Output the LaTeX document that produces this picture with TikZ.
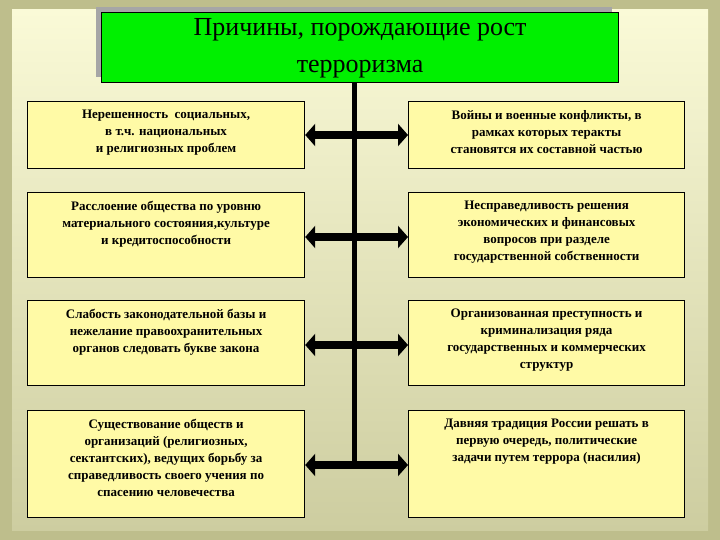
\documentclass[tikz,border=0pt]{standalone}
\usepackage{fontspec}
\setmainfont{Liberation Serif}
\usetikzlibrary{arrows.meta}
\begin{document}
\begin{tikzpicture}[x=1pt,y=-1pt,
  cbox/.style={draw=black,line width=1.2pt,fill=yellow!35!white,inner sep=0pt,anchor=north west},
  ctext/.style={align=center,font=\bfseries\fontsize{13}{17}\selectfont,inner sep=0pt,anchor=north,yshift=-9pt},
  biarrow/.style={line width=8pt,{Triangle[length=10pt,width=22pt]}-{Triangle[length=10pt,width=22pt]}},
  trunk/.style={line width=5pt}]
\useasboundingbox (0,0) rectangle (720,540);
\fill[color={rgb,255:red,190;green,190;blue,140}] (0,0) rectangle (720,540);
\shade[top color={rgb,255:red,250;green,250;blue,215},bottom color={rgb,255:red,205;green,205;blue,160}] (12,10) rectangle (708,530);
\fill[gray!70] (96,7) rectangle (612,77);
\node[draw=black,line width=1.2pt,fill={rgb,255:red,0;green,240;blue,0},minimum width=517pt,minimum height=70pt,anchor=north west,inner sep=0pt] (title) at (101,12) {};
\node[align=center,font=\fontsize{26}{37}\selectfont,inner sep=0pt,anchor=north,yshift=-6pt] (tt) at (title.north) {Причины, порождающие рост\\терроризма};
\coordinate (bot) at (354,465);
\draw[trunk] (title.south -| bot) -- (bot);
\node[cbox,minimum width=277pt,minimum height=67pt] (l1) at (27,101) {};
\node[cbox,minimum width=276pt,minimum height=67pt] (r1) at (408,101) {};
\node[cbox,minimum width=277pt,minimum height=85pt] (l2) at (27,192) {};
\node[cbox,minimum width=276pt,minimum height=85pt] (r2) at (408,192) {};
\node[cbox,minimum width=277pt,minimum height=85pt] (l3) at (27,300) {};
\node[cbox,minimum width=276pt,minimum height=85pt] (r3) at (408,300) {};
\node[cbox,minimum width=277pt,minimum height=107pt] (l4) at (27,410) {};
\node[cbox,minimum width=276pt,minimum height=107pt] (r4) at (408,410) {};
\node[ctext] (tl1) at (l1.north) {Нерешенность\ \ социальных,\\в т.ч. национальных\\и религиозных проблем};
\node[ctext] (tr1) at (r1.north) {Войны и военные конфликты, в\\рамках которых теракты\\становятся их составной частью};
\node[ctext] (tl2) at (l2.north) {Расслоение общества по уровню\\материального состояния,культуре\\и кредитоспособности};
\node[ctext] (tr2) at (r2.north) {Несправедливость решения\\экономических и финансовых\\вопросов при разделе\\государственной собственности};
\node[ctext] (tl3) at (l3.north) {Слабость законодательной базы и\\нежелание правоохранительных\\органов следовать букве закона};
\node[ctext] (tr3) at (r3.north) {Организованная преступность и\\криминализация ряда\\государственных и коммерческих\\структур};
\node[ctext] (tl4) at (l4.north) {Существование обществ и\\организаций (религиозных,\\сектантских), ведущих борьбу за\\справедливость своего учения по\\спасению человечества};
\node[ctext] (tr4) at (r4.north) {Давняя традиция России решать в\\первую очередь, политические\\задачи путем террора (насилия)};
\draw[biarrow] (l1.east |- 0,135) -- (r1.west |- 0,135);
\draw[biarrow] (l2.east |- 0,237) -- (r2.west |- 0,237);
\draw[biarrow] (l3.east |- 0,345) -- (r3.west |- 0,345);
\draw[biarrow] (l4.east |- bot) -- (r4.west |- bot);
\end{tikzpicture}
\end{document}
